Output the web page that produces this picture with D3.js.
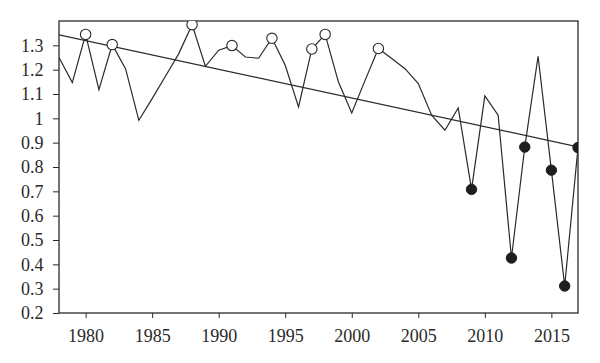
<!DOCTYPE html>
<html>
<head>
<meta charset="utf-8">
<script src="https://cdn.jsdelivr.net/npm/d3@7"></script>
<style>
body{margin:0;background:#fff;}
</style>
</head>
<body>
<script>
// series
var years=[1978,1979,1980,1981,1982,1983,1984,1985,1986,1987,1988,1989,1990,1991,1992,1993,1994,1995,1996,1997,1998,1999,2000,2001,2002,2003,2004,2005,2006,2007,2008,2009,2010,2011,2012,2013,2014,2015,2016,2017];
var values=[1.25,1.147,1.345,1.118,1.303,1.204,0.992,1.081,1.173,1.266,1.385,1.214,1.28,1.299,1.252,1.247,1.329,1.218,1.047,1.285,1.345,1.149,1.022,1.156,1.287,1.246,1.204,1.143,1.013,0.951,1.043,0.708,1.092,1.013,0.426,0.882,1.255,0.787,0.311,0.88];
var openYears=[1980,1982,1988,1991,1994,1997,1998,2002];
var filledYears=[2009,2012,2013,2015,2016,2017];
var trendYears=[1978,2017];
var trendValues=[1.343,0.883];
var xTicks=[1980,1985,1990,1995,2000,2005,2010,2015];
var yTicks=[0.2,0.3,0.4,0.5,0.6,0.7,0.8,0.9,1,1.1,1.2,1.3];
var yTickLabels=["0.2","0.3","0.4","0.5","0.6","0.7","0.8","0.9","1","1.1","1.2","1.3"];

var W=600,H=363;
var margin={top:21,right:22,bottom:50,left:59};
var w=W-margin.left-margin.right,h=H-margin.top-margin.bottom;
var ink="#2a2a2a";
var font="Liberation Serif";

var svg=d3.select("body").append("svg").attr("width",W).attr("height",H);
var g=svg.append("g").attr("transform","translate("+margin.left+","+margin.top+")");

var x=d3.scaleLinear().domain([1978,2017]).range([0,w]);
var y=d3.scaleLinear().domain([0.2,1.4]).range([h,0]);

g.append("clipPath").attr("id","clip").append("rect").attr("width",w).attr("height",h);

var xAxis=g.append("g").attr("transform","translate(0,"+h+")")
  .call(d3.axisBottom(x).tickValues(xTicks).tickFormat(d3.format("d")).tickSize(5).tickPadding(11).tickSizeOuter(0));
var yAxis=g.append("g")
  .call(d3.axisLeft(y).tickValues(yTicks).tickFormat(function(d,i){return yTickLabels[i];}).tickSize(6).tickPadding(9.5).tickSizeOuter(0));
[xAxis,yAxis].forEach(function(a){
  a.attr("font-family",font).attr("font-size",18);
  a.select(".domain").remove();
  a.selectAll("line").attr("stroke",ink);
  a.selectAll("text").attr("fill",ink).attr("font-family",font).attr("font-size",18);
});

// frame
g.append("rect").attr("width",w).attr("height",h).attr("fill","none").attr("stroke",ink).attr("stroke-width",1.3);

var plot=g.append("g").attr("clip-path","url(#clip)");

var pts=years.map(function(d,i){return {year:d,value:values[i]};});
var line=d3.line().x(function(d){return x(d.year);}).y(function(d){return y(d.value);});

plot.append("path").datum(pts)
  .attr("fill","none").attr("stroke",ink).attr("stroke-width",1.2).attr("d",line);

plot.append("path").datum(trendYears.map(function(d,i){return {year:d,value:trendValues[i]};}))
  .attr("fill","none").attr("stroke",ink).attr("stroke-width",1.3).attr("d",line);

var lookup=function(yr){return values[years.indexOf(yr)];};

plot.selectAll("circle.open").data(openYears).enter().append("circle")
  .attr("class","open")
  .attr("cx",function(d){return x(d);}).attr("cy",function(d){return y(lookup(d));})
  .attr("r",5.2).attr("fill","#fff").attr("stroke",ink).attr("stroke-width",1.1);

plot.selectAll("circle.filled").data(filledYears).enter().append("circle")
  .attr("class","filled")
  .attr("cx",function(d){return x(d);}).attr("cy",function(d){return y(lookup(d));})
  .attr("r",5.2).attr("fill","#1e1e1e").attr("stroke","#1e1e1e").attr("stroke-width",1);
</script>
</body>
</html>
